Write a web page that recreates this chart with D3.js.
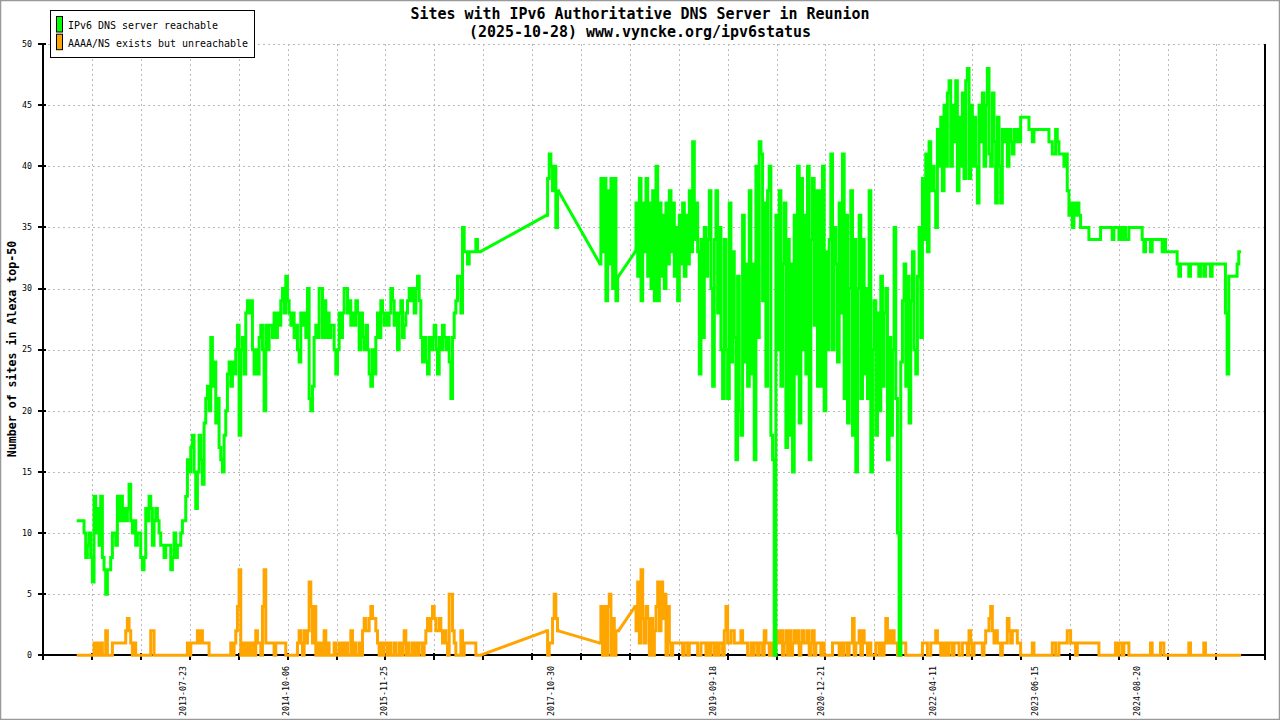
<!DOCTYPE html>
<html><head><meta charset="utf-8">
<script src="https://cdn.jsdelivr.net/npm/d3@7"></script>
<style>body{margin:0;background:#fff;overflow:hidden}</style>
</head><body>
<svg id="chart" width="1280" height="720"></svg>
<script>
// ---------- data ----------
const titleLines = ["Sites with IPv6 Authoritative DNS Server in Reunion", "(2025-10-28) www.vyncke.org/ipv6status"];
const legendLabels = ["IPv6 DNS server reachable", "AAAA/NS exists but unreachable"];
const seriesColors = ["#00ff00", "#ffa500"];
const yAxisTitle = "Number of sites in Alexa top-50";
const xDomain = ["2011-12-08", "2026-02-14"];
const yDomain = [0, 50];
const yTickValues = [0, 5, 10, 15, 20, 25, 30, 35, 40, 45, 50];
const xTickIntervals = 25;
const xLabelDates = ["2013-07-23", "2014-10-06", "2015-11-25", "2017-10-30", "2019-09-18", "2020-12-21", "2022-04-11", "2023-06-15", "2024-08-20"];

// sampled segments (data gaps between segments are bridged by a straight line)
const segmentSpans = [["2012-05-04", "2017-01-02"], ["2017-10-12", "2017-11-30"], ["2018-05-26", "2018-08-12"], ["2018-10-22", "2025-10-28"]];

const greenSeg1 = [11,11,11,11,10,8,9,10,8,6,13,10,
12,9,13,8,7,5,7,7,8,10,10,9,
13,11,13,11,12,11,12,14,11,10,11,9,
10,10,8,7,8,12,11,13,12,9,11,12,
11,10,9,9,8,9,9,9,7,8,10,8,
9,9,10,11,11,13,16,15,17,18,15,12,
15,18,16,14,19,21,22,20,26,22,24,19,
21,17,16,15,18,20,23,24,22,24,23,25,
27,18,25,26,23,28,29,28,29,25,23,25,
23,26,27,25,20,27,25,27,27,26,28,26,
28,27,29,30,28,31,29,28,27,28,26,27,
25,24,28,27,28,26,30,21,20,22,26,27,
26,30,30,26,29,26,28,26,27,27,25,23,
25,28,26,28,30,30,28,29,27,28,27,29,
28,25,28,26,25,27,25,23,22,25,23,26,
28,26,29,28,27,28,27,28,30,29,27,28,
25,28,29,26,27,28,29,30,29,30,28,30,
31,29,26,24,26,24,23,26,25,26,27,25,
23,26,25,27,26,25,26,24,21,26,28,29,
31,
31,28,35,33,33,32,33,33,33,33,34,33,33];
const greenSeg2 = [36,39,41,40,38,40,35,38];
const greenSeg3 = [32,39,33,39,29,38,32,39,30,39,29,31];
const greenSeg4 = [
33,37,31,39,29,37,33,39,31,37,
30,38,29,40,29,37,31,36,30,37,
32,38,33,37,31,35,29,36,32,37,
31,36,32,38,33,42,34,37,33,23,
34,26,35,31,34,38,30,22,34,38,
28,35,25,21,34,25,21,37,24,33,
26,16,31,20,
18,36,24,32,22,38,23,32,16,40,
26,42,41,29,37,22,38,40,18,16,
0,36,25,38,22,32,37,17,34,18,
32,15,36,23,40,19,39,25,36,23,
40,16,34,39,27,38,22,38,22,40,
20,33,25,34,41,25,35,32,24,37,
28,41,21,36,19,30,38,18,34,15,
30,36,21,34,23,30,21,38,15,25,
29,18,28,20,31,22,28,30,16,26,
18,25,35,21,10,0,24,29,32,22,
31,19,29,33,25,23,31,35,26,39,
34,41,33,42,38,40,38,35,43,40,
44,38,45,40,46,47,40,45,42,47,
38,44,40,46,39,47,48,39,45,40,
44,40,37,45,42,46,40,45,48,41,
40,46,42,37,44,40,37,43,42,43,
40,43,42,41,43,42,43,42,44,44,
44,44,44,43,43,42,43,43,43,43,
43,43,43,43,43,42,42,41,41,43,
42,41,41,41,40,41,38,36,37,35,
37,36,37,36,35,35,35,35,35,34,
34,34,34,34,34,34,35,35,35,35,
35,35,35,34,35,35,35,34,35,34,
35,34,34,35,35,35,35,35,35,35,
35,34,33,34,34,34,33,34,34,34,
34,34,34,33,34,33,33,33,33,33,
33,33,32,31,32,32,32,32,32,31,
32,32,32,32,32,31,32,32,31,32,
32,32,31,32,32,32,32,32,32,32,
32,28,23,31,31,31,31,31,32,33];

const orangeSeg1 = [0,0,0,0,0,0,0,0,0,0,1,0,
1,0,1,0,0,2,0,0,0,1,1,1,
1,1,1,1,1,2,3,2,1,0,1,0,
0,0,0,0,0,0,0,0,2,2,0,0,
0,0,0,0,0,0,0,0,0,0,0,0,
0,0,0,0,0,0,1,0,1,1,1,1,
2,1,2,1,1,1,1,0,0,0,0,0,
0,0,0,0,0,0,0,0,1,0,1,2,
4,7,0,1,0,1,0,1,0,1,0,2,
1,1,0,4,7,1,1,1,1,1,0,1,
1,1,1,1,1,0,0,0,0,0,0,0,
1,2,1,0,2,1,2,6,4,1,4,0,
1,0,1,0,2,0,1,0,0,0,1,0,
0,1,0,1,0,1,0,0,2,0,1,0,
0,1,0,2,3,2,2,3,4,3,3,2,
1,0,1,0,1,1,0,1,0,0,1,0,
0,1,0,1,2,0,1,0,0,1,0,1,
0,1,1,0,1,2,3,2,3,4,3,2,
2,3,2,1,2,1,0,5,5,2,1,0,
0,0,
2,0,1,1,1,1,1,1,1,0,0,0];
const orangeSeg2 = [2,0,1,1,3,5,3,2];
const orangeSeg3 = [1,4,0,4,0,4,5,0,3,0,2,2];
const orangeSeg4 = [
4,2,6,1,7,3,1,4,3,0,3,0,
2,4,6,2,6,3,5,0,4,1,0,1,
1,1,1,1,1,0,1,1,0,1,1,1,
1,1,0,0,1,1,1,0,1,0,1,1,
0,1,0,1,1,0,2,4,1,1,2,2,
1,1,1,1,2,1,1,1,0,0,1,0,
1,1,0,1,1,0,2,1,1,0,1,0,
0,1,2,1,2,0,1,2,0,2,0,1,
2,1,2,0,1,2,1,1,2,0,1,2,
0,1,1,1,0,1,0,0,0,0,0,1,
1,1,1,0,1,0,1,1,0,1,1,3,
0,1,1,2,0,2,1,1,0,1,0,0,
0,1,1,0,
1,0,1,3,1,2,1,2,1,1,0,0,1,
1,1,0,0,0,0,0,0,0,0,0,0,
1,1,1,0,0,1,1,1,2,1,1,0,
1,0,1,0,1,1,0,1,1,1,0,0,
1,1,1,0,2,1,0,1,1,1,1,1,
0,1,2,2,3,4,2,1,2,1,1,0,
1,1,1,3,2,1,2,2,2,1,1,0,
0,0,0,0,0,0,1,0,0,0,0,0,
0,0,0,0,0,0,1,1,0,0,1,1,
1,1,1,2,2,1,1,1,0,1,1,1,
1,1,1,1,1,1,1,1,1,1,0,0,
0,0,0,0,0,0,0,0,1,0,1,1,
0,1,1,1,0,0,0,0,0,0,0,0,
0,0,0,0,0,1,0,0,0,0,0,1,
1,0,0,0,0,0,0,0,0,0,0,0,
0,0,0,0,1,0,0,0,0,0,0,0,
0,1,0,0,0,0,0,0,0,0,0,0,
0,0,0,0,0,0,0,0,0,0,0];

// ---------- drawing ----------
const W = 1280, H = 720;
const plotLeft = 43.3, plotRight = 1265.3, plotTop = 44, plotBottom = 655.3;
const mono = "'DejaVu Sans Mono', 'Liberation Mono', monospace";
const parse = d3.utcParse("%Y-%m-%d");

const x = d3.scaleUtc().domain(xDomain.map(parse)).range([plotLeft, plotRight]);
const y = d3.scaleLinear().domain(yDomain).range([plotBottom, plotTop]);

function buildSegments(segs) {
  return segs.map((vals, i) => {
    const t0 = parse(segmentSpans[i][0]).getTime(), t1 = parse(segmentSpans[i][1]).getTime();
    return vals.map((v, k) => ({date: new Date(t0 + (t1 - t0) * k / (vals.length - 1)), value: v}));
  });
}
const greenData = buildSegments([greenSeg1, greenSeg2, greenSeg3, greenSeg4]);
const orangeData = buildSegments([orangeSeg1, orangeSeg2, orangeSeg3, orangeSeg4]);

const svg = d3.select("#chart");
svg.append("rect").attr("x", 0).attr("y", 0).attr("width", W).attr("height", H).attr("fill", "#fff");
svg.append("rect").attr("x", 0.5).attr("y", 0.5).attr("width", W - 1).attr("height", H - 1)
  .attr("fill", "none").attr("stroke", "#999").attr("stroke-width", 1.5);

// x ticks: uniform divisions of the domain
const d0 = x.domain()[0].getTime(), d1 = x.domain()[1].getTime();
const xTickDates = d3.range(xTickIntervals + 1).map(i => new Date(d0 + (d1 - d0) * i / xTickIntervals));

const grid = svg.append("g").attr("stroke", "#bbb").attr("stroke-width", 1).attr("stroke-dasharray", "2,3").attr("shape-rendering", "crispEdges");
grid.selectAll("line.h").data(yTickValues.filter(v => v > 0)).join("line")
  .attr("x1", plotLeft).attr("x2", plotRight).attr("y1", d => Math.round(y(d)) + 0.5).attr("y2", d => Math.round(y(d)) + 0.5);
grid.selectAll("line.v").data(xTickDates.slice(1, -1)).join("line")
  .attr("x1", d => Math.round(x(d)) + 0.5).attr("x2", d => Math.round(x(d)) + 0.5).attr("y1", plotTop).attr("y2", plotBottom);

// axes
const axes = svg.append("g").attr("stroke", "#000").attr("shape-rendering", "crispEdges");
axes.append("line").attr("x1", plotLeft).attr("x2", plotLeft).attr("y1", plotTop).attr("y2", plotBottom + 1).attr("stroke-width", 2);
axes.append("line").attr("x1", plotRight).attr("x2", plotRight).attr("y1", plotTop).attr("y2", plotBottom + 1).attr("stroke-width", 2);
axes.append("line").attr("x1", plotLeft).attr("x2", plotRight + 1).attr("y1", plotBottom).attr("y2", plotBottom).attr("stroke-width", 2);
axes.selectAll("line.yt").data(yTickValues).join("line")
  .attr("x1", plotLeft - 5).attr("x2", plotLeft + 3).attr("y1", d => y(d)).attr("y2", d => y(d)).attr("stroke-width", 2);
axes.selectAll("line.xt").data(xTickDates).join("line")
  .attr("x1", d => x(d)).attr("x2", d => x(d)).attr("y1", plotBottom - 2).attr("y2", plotBottom + 5).attr("stroke-width", 2);

svg.append("g").selectAll("text").data(yTickValues).join("text")
  .attr("x", 32).attr("y", d => y(d)).attr("dy", "0.33em").attr("text-anchor", "end")
  .attr("font-family", mono).attr("font-size", 8.3).attr("fill", "#000").text(d => d);

svg.append("g").selectAll("text").data(xLabelDates).join("text")
  .attr("transform", d => `translate(${x(parse(d)) + 2.5},666) rotate(-90)`)
  .attr("text-anchor", "end").attr("font-family", mono).attr("font-size", 8.3).attr("fill", "#000").text(d => d);

// y-axis title
svg.append("text").attr("transform", "translate(16,349) rotate(-90)").attr("text-anchor", "middle")
  .attr("font-family", mono).attr("font-weight", "bold").attr("font-size", 11.6).attr("fill", "#000").text(yAxisTitle);

// title
svg.append("g").selectAll("text").data(titleLines).join("text")
  .attr("x", 640).attr("y", (d, i) => 18.5 + i * 18.5).attr("text-anchor", "middle")
  .attr("font-family", mono).attr("font-weight", "bold").attr("font-size", 15).attr("fill", "#000")
  .attr("textLength", d => d.length * 9).attr("lengthAdjust", "spacingAndGlyphs").text(d => d);

// series: stepped daily-style segments, straight bridges across data gaps
const stepLine = d3.line().x(d => x(d.date)).y(d => y(d.value)).curve(d3.curveStep);
const bridgeLine = d3.line().x(d => x(d.date)).y(d => y(d.value));
[[orangeData, seriesColors[1]], [greenData, seriesColors[0]]].forEach(([segs, color]) => {
  const g = svg.append("g").attr("fill", "none").attr("stroke", color).attr("stroke-width", 3)
    .attr("stroke-linejoin", "miter").attr("stroke-linecap", "square");
  segs.slice(1).forEach((seg, i) => {
    const prev = segs[i];
    g.append("path").attr("d", bridgeLine([prev[prev.length - 1], seg[0]])).attr("stroke-linecap", "butt");
  });
  segs.forEach(seg => g.append("path").attr("d", stepLine(seg)));
});

// legend
const lg = svg.append("g");
lg.append("rect").attr("x", 50.5).attr("y", 10.5).attr("width", 204).attr("height", 47)
  .attr("fill", "#fff").attr("stroke", "#000").attr("stroke-width", 1);
legendLabels.forEach((label, i) => {
  lg.append("rect").attr("x", 56.5).attr("y", 16.5 + i * 17.7).attr("width", 6).attr("height", 15.5)
    .attr("fill", seriesColors[i]).attr("stroke", "#000").attr("stroke-width", 1);
  lg.append("text").attr("x", 68).attr("y", 25 + i * 17.7).attr("dy", "0.35em")
    .attr("font-family", mono).attr("font-size", 11).attr("fill", "#000")
    .attr("textLength", label.length * 6).attr("lengthAdjust", "spacingAndGlyphs").text(label);
});
</script>
</body></html>
